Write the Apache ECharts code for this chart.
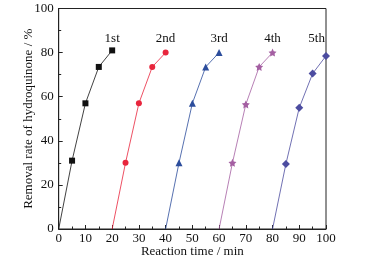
<!DOCTYPE html>
<html>
<head>
<meta charset="utf-8">
<script src="https://cdn.jsdelivr.net/npm/echarts@6/dist/echarts.min.js"></script>
<style>
  html, body { margin: 0; padding: 0; background: #fff; }
  #chart { width: 367px; height: 263px; }
</style>
</head>
<body>
<div id="chart"></div>
<script>
// data: five consecutive runs
const run1 = [[0, 0], [5, 31], [10, 57], [15, 73.5], [20, 81]]
const run2 = [[20, 0], [25, 30], [30, 57], [35, 73.5], [40, 80]]
const run3 = [[40, 0], [45, 30], [50, 57], [55, 73.5], [60, 80]]
const run4 = [[60, 0], [65, 30], [70, 56.5], [75, 73.5], [80, 80]]
const run5 = [[80, 0], [85, 29.5], [90, 55], [95, 70.5], [100, 78.5]]
const runNames = ['1st', '2nd', '3rd', '4th', '5th']
const labelX = [20, 40, 60, 80, 96.5]
const labelY = 86.5

const font = '"Liberation Serif", "DejaVu Serif", serif'
const styles = [
  { color: '#111111', symbol: 'rect', size: 6 },
  { color: '#e8253c', symbol: 'circle', size: 6 },
  { color: '#2c4d9c', symbol: 'triangle', size: 7 },
  { color: '#a45fa2', symbol: 'path://M0,-10L2.9,-4L9.5,-3.1L4.8,1.5L5.9,8.1L0,5L-5.9,8.1L-4.8,1.5L-9.5,-3.1L-2.9,-4Z', size: 8 },
  { color: '#4c4ca0', symbol: 'diamond', size: 8 }
]

const runs = [run1, run2, run3, run4, run5]
const series = runs.map((d, i) => ({
  name: runNames[i],
  type: 'line',
  // the starting point of each run is drawn without a marker
  data: d.map((p, j) => j === 0 ? { value: p, symbol: 'none' } : p),
  symbol: styles[i].symbol,
  symbolSize: styles[i].size,
  showAllSymbol: true,
  itemStyle: { color: styles[i].color },
  lineStyle: { width: 0.8, color: styles[i].color },
  markPoint: {
    symbol: 'circle', symbolSize: 0,
    label: { show: true, formatter: runNames[i], color: '#111', fontFamily: font, fontSize: 13 },
    data: [{ coord: [labelX[i], labelY] }]
  },
  z: 3
}))

const chart = echarts.init(document.getElementById('chart'))
chart.setOption({
  animation: false,
  backgroundColor: '#fff',
  grid: {
    left: 58.7, right: 41, top: 8.5, bottom: 34, outerBoundsMode: 'none',
    show: true, borderColor: '#222', borderWidth: 1
  },
  xAxis: {
    type: 'value', min: 0, max: 100, interval: 10,
    name: 'Reaction time / min', nameLocation: 'middle', nameGap: 16, nameMoveOverlap: false,
    nameTextStyle: { fontFamily: font, fontSize: 13, color: '#111' },
    axisLine: { lineStyle: { color: '#222' } },
    axisTick: { inside: true, length: 4, lineStyle: { color: '#222' } },
    minorTick: { show: true, splitNumber: 2, length: 2.5, lineStyle: { color: '#222' } },
    axisLabel: { fontFamily: font, fontSize: 13, color: '#111', margin: 3 },
    splitLine: { show: false }
  },
  yAxis: {
    type: 'value', min: 0, max: 100, interval: 20,
    name: 'Removal rate of hydroquinone / %', nameLocation: 'middle', nameGap: 24, nameMoveOverlap: false,
    nameTextStyle: { fontFamily: font, fontSize: 13, color: '#111' },
    axisLine: { lineStyle: { color: '#222' } },
    axisTick: { inside: true, length: 4, lineStyle: { color: '#222' } },
    minorTick: { show: true, splitNumber: 2, length: 2.5, lineStyle: { color: '#222' } },
    axisLabel: { fontFamily: font, fontSize: 13, color: '#111', margin: 5 },
    splitLine: { show: false }
  },
  series
})
</script>
</body>
</html>
